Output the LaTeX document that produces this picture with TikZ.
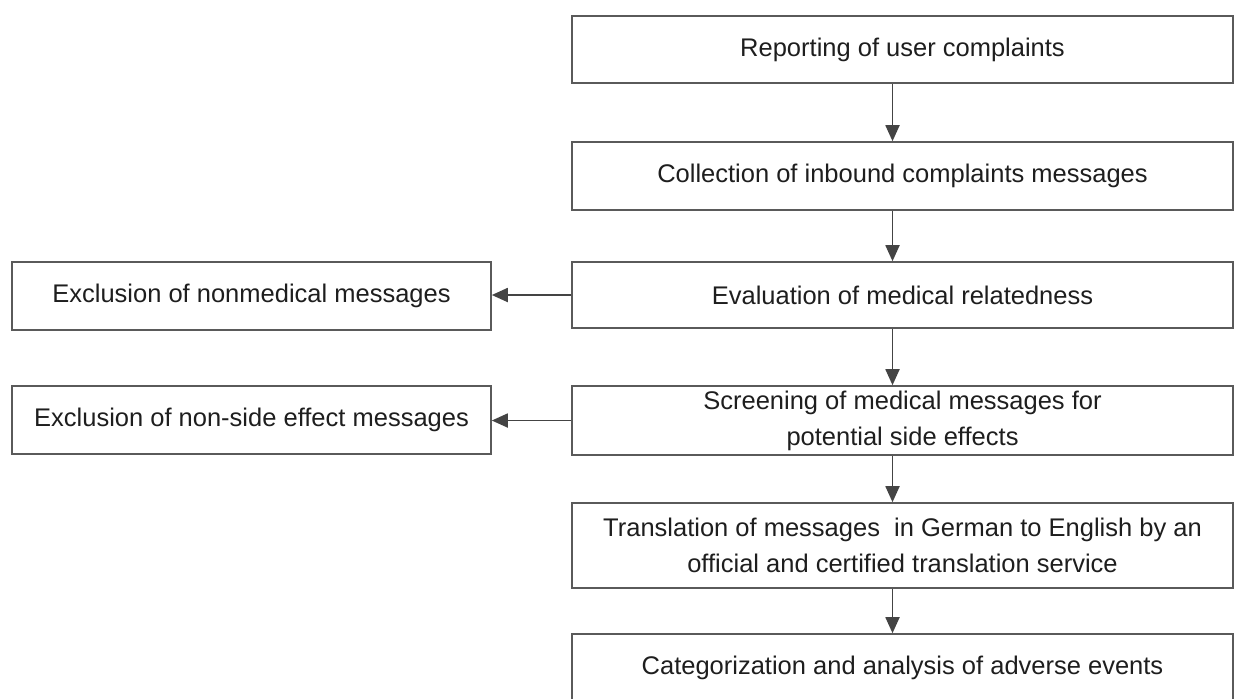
\documentclass[tikz,border=0pt]{standalone}
\usepackage{fontspec}
\setmainfont{Liberation Sans}
\usetikzlibrary{arrows.meta}
\definecolor{bordergray}{HTML}{5A5A5A}
\definecolor{arrowgray}{HTML}{444444}
\definecolor{textdark}{HTML}{1E1E1E}
\tikzset{
  box/.style={draw=bordergray, line width=0.8pt, fill=white, align=center,
    text=textdark, font=\fontsize{12.75pt}{18pt}\selectfont, inner sep=0pt},
  rbox/.style={box, minimum width=330.5pt},
  lbox/.style={box, minimum width=239.5pt, minimum height=34pt},
  arr/.style={draw=arrowgray, line width=0.9pt, -{Triangle[length=8pt,width=7pt]}, arrowgray}
}
\begin{document}
\begin{tikzpicture}[x=0.5pt,y=-0.5pt]
\useasboundingbox (0,0) rectangle (1235,698);
\clip (0,0) rectangle (1235,698);
\fill[white] (0,0) rectangle (1235,698);
\node[rbox, minimum height=33.5pt] (b1) at (902.5,49.5) {Reporting of user complaints};
\node[rbox, minimum height=34pt] (b2) at (902.5,176) {Collection of inbound complaints messages};
\node[rbox, minimum height=33pt] (b3) at (902.5,295) {Evaluation of medical relatedness};
\node[rbox, minimum height=34.5pt] (b4) at (902.5,420.5) {Screening of medical messages for\\potential side effects};
\node[rbox, minimum height=42.5pt] (b5) at (902.5,545.5) {Translation of messages\ \ in German to English by an\\official and certified translation service};
\node[rbox, minimum height=34pt] (b6) at (902.5,668) {Categorization and analysis of adverse events};
\node[lbox] (l1) at (251.5,296) {Exclusion of nonmedical messages};
\node[lbox] (l2) at (251.5,420) {Exclusion of non-side effect messages};
\draw[arr] ([xshift=-5pt]b1.south) -- ([xshift=-5pt]b2.north);
\draw[arr] ([xshift=-5pt]b2.south) -- ([xshift=-5pt]b3.north);
\draw[arr] ([xshift=-5pt]b3.south) -- ([xshift=-5pt]b4.north);
\draw[arr] ([xshift=-5pt]b4.south) -- ([xshift=-5pt]b5.north);
\draw[arr] ([xshift=-5pt]b5.south) -- ([xshift=-5pt]b6.north);
\draw[arr] (b3.west) -- (b3.west -| l1.east);
\draw[arr] (b4.west) -- (b4.west -| l2.east);
\end{tikzpicture}
\end{document}
